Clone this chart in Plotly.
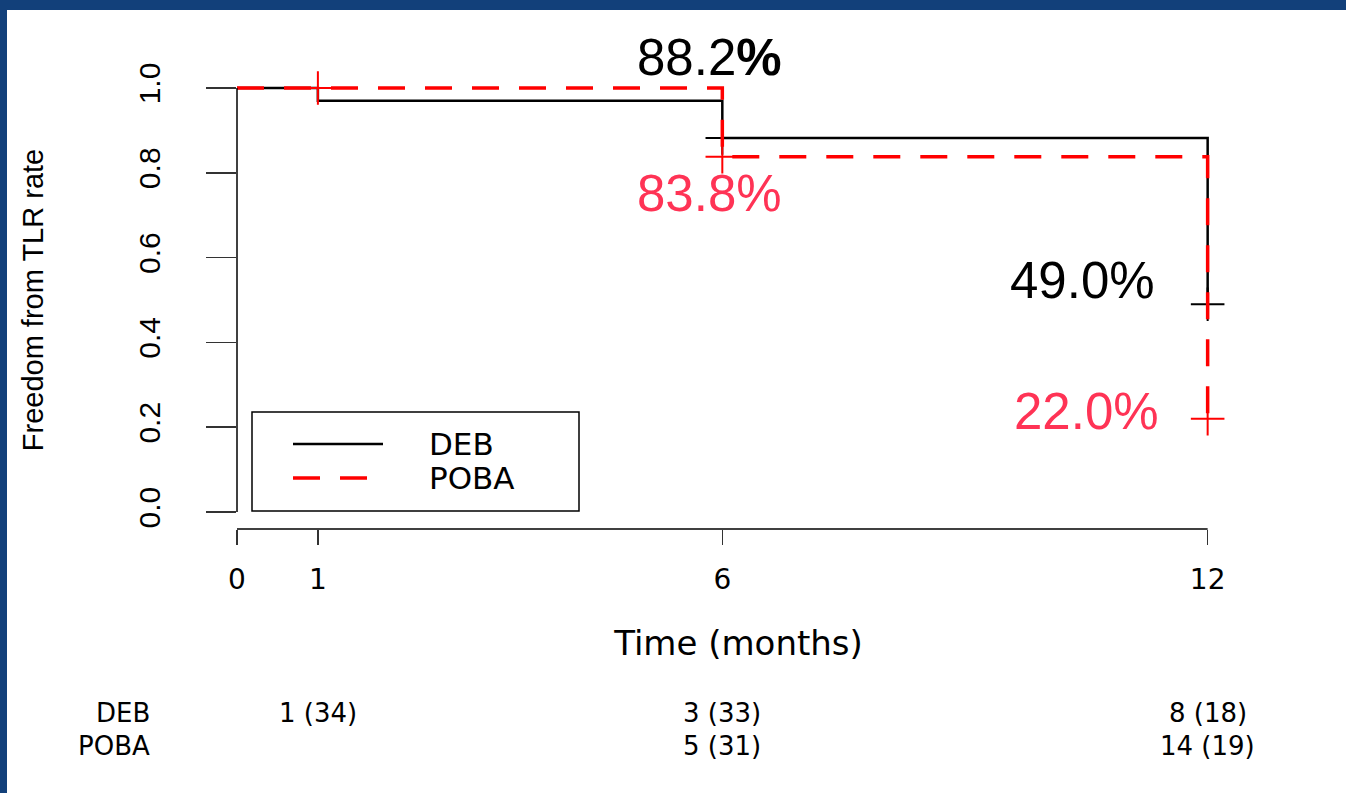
import plotly.graph_objects as go

# ---------------- data ----------------
deb_time = [0, 1, 6, 12]
deb_surv = [1.0, 0.970, 0.882, 0.490]
poba_time = [0, 6, 12]
poba_surv = [1.0, 0.838, 0.220]

deb_cens_time = [6, 12]
deb_cens_surv = [0.882, 0.490]
poba_cens_time = [1, 6, 12]
poba_cens_surv = [1.0, 0.838, 0.220]

x_tickvals = [0, 1, 6, 12]
x_ticktext = ["0", "1", "6", "12"]
y_tickvals = [0.0, 0.2, 0.4, 0.6, 0.8, 1.0]
y_ticktext = ["0.0", "0.2", "0.4", "0.6", "0.8", "1.0"]

risk_deb_time = [1, 6, 12]
risk_deb_events = [1, 3, 8]
risk_deb_atrisk = [34, 33, 18]
risk_poba_time = [6, 12]
risk_poba_events = [5, 14]
risk_poba_atrisk = [31, 19]

# ---------------- layout geometry ----------------
W, H = 1346, 793
X_RANGE = [0, 12.4]
Y_RANGE = [-0.04, 1.04]
PX_PER_MONTH = (1208 - 237) / 12.0
L, T, B = 237, 71, 264
PW = round((X_RANGE[1] - X_RANGE[0]) * PX_PER_MONTH)
R = W - L - PW
PH = H - T - B


def pxx(px):
    return (px - L) / PW


def pxy(py):
    return (H - B - py) / PH


def dyp(v):
    return (v - Y_RANGE[0]) / (Y_RANGE[1] - Y_RANGE[0])


def dxp(v):
    return (v - X_RANGE[0]) / (X_RANGE[1] - X_RANGE[0])


BLACK = "#000000"
RED = "#ff0000"
PINK = "#ff3355"
R_FONT = "DejaVu Sans, Liberation Sans, Arial, sans-serif"
YFONT = "Liberation Sans Narrow, Arial Narrow, Liberation Sans, Arial, sans-serif"
PCT_FONT = "Liberation Sans, Arial, sans-serif"
DASH = "27px,20px"

fig = go.Figure()

fig.add_trace(go.Scatter(
    x=deb_time, y=deb_surv, mode="lines", name="DEB",
    line=dict(color=BLACK, width=2.5, shape="hv"),
    cliponaxis=False, showlegend=False))
fig.add_trace(go.Scatter(
    x=deb_cens_time, y=deb_cens_surv, mode="markers", name="DEB censored",
    marker=dict(symbol="cross-thin", size=24, color=BLACK,
                line=dict(color=BLACK, width=2)),
    cliponaxis=False, showlegend=False))
fig.add_trace(go.Scatter(
    x=poba_time, y=poba_surv, mode="lines", name="POBA",
    line=dict(color=RED, width=3.5, shape="hv", dash=DASH),
    cliponaxis=False, showlegend=False))
fig.add_trace(go.Scatter(
    x=poba_cens_time, y=poba_cens_surv, mode="markers", name="POBA censored",
    marker=dict(symbol="cross-thin", size=24, color=RED,
                line=dict(color=RED, width=2)),
    cliponaxis=False, showlegend=False))

shapes = []
# slide background frame (dark blue)
frame = "#12407a"
shapes.append(dict(type="rect", xref="paper", yref="paper", layer="above",
                   x0=pxx(0), x1=pxx(7), y0=pxy(H), y1=pxy(0),
                   fillcolor=frame, line=dict(width=0)))
shapes.append(dict(type="rect", xref="paper", yref="paper", layer="above",
                   x0=pxx(0), x1=pxx(W), y0=pxy(10), y1=pxy(0),
                   fillcolor=frame, line=dict(width=0)))
# R-style detached axis lines
shapes.append(dict(type="line", xref="paper", yref="paper",
                   x0=0, x1=0, y0=dyp(y_tickvals[0]), y1=dyp(y_tickvals[-1]),
                   line=dict(color=BLACK, width=1.5)))
shapes.append(dict(type="line", xref="paper", yref="paper",
                   x0=dxp(x_tickvals[0]), x1=dxp(x_tickvals[-1]), y0=0, y1=0,
                   line=dict(color=BLACK, width=1.5)))
# legend box
shapes.append(dict(type="rect", xref="paper", yref="paper",
                   x0=pxx(252), x1=pxx(579), y0=pxy(511), y1=pxy(412),
                   fillcolor="white", line=dict(color=BLACK, width=1.5)))
shapes.append(dict(type="line", xref="paper", yref="paper",
                   x0=pxx(293), x1=pxx(383), y0=pxy(444), y1=pxy(444),
                   line=dict(color=BLACK, width=2.5)))
shapes.append(dict(type="line", xref="paper", yref="paper",
                   x0=pxx(293), x1=pxx(383), y0=pxy(478), y1=pxy(478),
                   line=dict(color=RED, width=3.5, dash=DASH)))

ann = []
ann.append(dict(text="DEB", xref="paper", yref="paper", x=pxx(427), y=pxy(444),
                xanchor="left", yanchor="middle", showarrow=False,
                font=dict(family=R_FONT, size=31, color=BLACK)))
ann.append(dict(text="POBA", xref="paper", yref="paper", x=pxx(427), y=pxy(478),
                xanchor="left", yanchor="middle", showarrow=False,
                font=dict(family=R_FONT, size=31, color=BLACK)))


# percentage call-outs
def pct(v):
    return f"{v * 100:.1f}%"


ann.append(dict(text=pct(deb_surv[2]).replace("%", "<b>%</b>"), x=5.84, y=pxy(57),
                xref="x", yref="paper",
                showarrow=False, xanchor="center", yanchor="middle",
                font=dict(family=PCT_FONT, size=51, color=BLACK)))
ann.append(dict(text=pct(poba_surv[1]), x=5.84, y=0.752, xref="x", yref="y",
                showarrow=False, xanchor="center", yanchor="middle",
                font=dict(family=PCT_FONT, size=51, color=PINK)))
ann.append(dict(text=pct(deb_surv[3]), x=10.45, y=0.545, xref="x", yref="y",
                showarrow=False, xanchor="center", yanchor="middle",
                font=dict(family=PCT_FONT, size=51, color=BLACK)))
ann.append(dict(text=pct(poba_surv[2]), x=10.5, y=0.238, xref="x", yref="y",
                showarrow=False, xanchor="center", yanchor="middle",
                font=dict(family=PCT_FONT, size=51, color=PINK)))

# number-at-risk table
RISK_SIZE = 26
row_y = {"DEB": pxy(713), "POBA": pxy(746)}
for lbl in ["DEB", "POBA"]:
    ann.append(dict(text=lbl, xref="paper", yref="paper", x=pxx(152), y=row_y[lbl],
                    xanchor="right", yanchor="middle", showarrow=False,
                    font=dict(family=R_FONT, size=RISK_SIZE, color=BLACK)))
for t, e, n in zip(risk_deb_time, risk_deb_events, risk_deb_atrisk):
    ann.append(dict(text=f"{e} ({n})", xref="x", yref="paper", x=t, y=row_y["DEB"],
                    xanchor="center", yanchor="middle", showarrow=False,
                    font=dict(family=R_FONT, size=RISK_SIZE, color=BLACK)))
for t, e, n in zip(risk_poba_time, risk_poba_events, risk_poba_atrisk):
    ann.append(dict(text=f"{e} ({n})", xref="x", yref="paper", x=t, y=row_y["POBA"],
                    xanchor="center", yanchor="middle", showarrow=False,
                    font=dict(family=R_FONT, size=RISK_SIZE, color=BLACK)))

fig.update_layout(
    width=W, height=H,
    margin=dict(l=L, r=R, t=T, b=B, autoexpand=False),
    paper_bgcolor="white", plot_bgcolor="white",
    showlegend=False,
    shapes=shapes, annotations=ann,
    xaxis=dict(range=X_RANGE, tickvals=x_tickvals, ticktext=x_ticktext,
               showgrid=False, zeroline=False, showline=False,
               ticks="outside", ticklen=15, tickwidth=1.5, tickcolor="#333",
               ticklabelstandoff=10,
               tickfont=dict(family=R_FONT, size=28, color=BLACK),
               title=dict(text="Time (months)", standoff=36,
                          font=dict(family=R_FONT, size=34, color=BLACK)),
               automargin=False, fixedrange=True),
    yaxis=dict(range=Y_RANGE, tickvals=y_tickvals, ticktext=y_ticktext,
               showgrid=False, zeroline=False, showline=False,
               ticks="outside", ticklen=30, tickwidth=1.5, tickcolor="#333",
               tickangle=-90, ticklabelstandoff=34,
               tickfont=dict(family=YFONT, size=30, color=BLACK),
               title=dict(text="Freedom from TLR rate", standoff=80,
                          font=dict(family=YFONT, size=29, color=BLACK)),
               automargin=False, fixedrange=True),
)

fig.write_html(
    "out.html",
    config={"displayModeBar": False, "staticPlot": True},
    post_script="document.body.style.margin='0px';document.body.style.overflow='hidden';",
)
